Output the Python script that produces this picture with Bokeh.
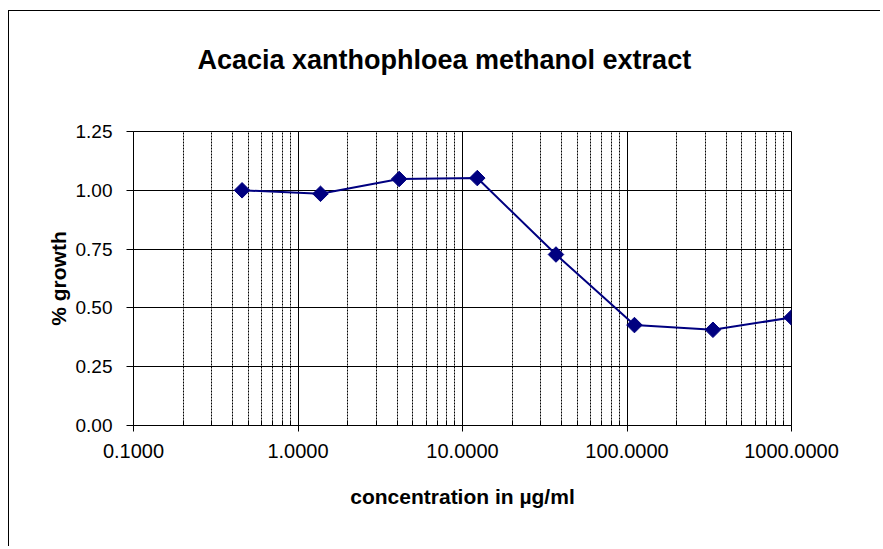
from bokeh.plotting import figure
from bokeh.models import Range1d, FixedTicker, PrintfTickFormatter, Title
from bokeh.embed import file_html
from bokeh.resources import INLINE

# Data
concentration = [0.457, 1.37, 4.12, 12.3, 37.0, 111.0, 333.0, 1000.0]
growth = [1.00, 0.985, 1.048, 1.052, 0.727, 0.427, 0.407, 0.459]

x_major_ticks = [0.1, 1, 10, 100, 1000]
x_minor_ticks = [m * d for d in [0.1, 1, 10, 100] for m in range(2, 10)]
y_ticks = [0.0, 0.25, 0.5, 0.75, 1.0, 1.25]

title_text = "Acacia xanthophloea methanol extract"
x_label = "concentration in µg/ml"
y_label = "% growth"

FONT = "Liberation Sans"
NAVY = "#000080"

p = figure(
    width=872, height=536,
    x_axis_type="log",
    x_range=Range1d(0.1, 1000), y_range=Range1d(0, 1.25),
    output_backend="svg", toolbar_location=None,
    min_border_left=124, min_border_right=90,
    min_border_top=120, min_border_bottom=122,
)
p.styles = {"margin-left": "8px", "margin-top": "10px",
            "border-left": "1px solid black", "border-top": "1px solid black"}
p.background_fill_color = "white"
p.border_fill_color = "white"
p.outline_line_color = "black"

# spacer between plot area and title (keeps the title high up)
p.add_layout(Title(text=" ", text_font_size="2px", standoff=48), "above")

# Title
p.title.text = title_text
p.title.text_font = FONT
p.title.text_font_size = "27px"
p.title.text_font_style = "bold"
p.title.text_color = "black"
p.title.align = "left"
p.title.offset = 64
p.title.standoff = 10

# X axis
xa = p.xaxis[0]
xa.ticker = FixedTicker(ticks=x_major_ticks, minor_ticks=x_minor_ticks)
xa.formatter = PrintfTickFormatter(format="%.4f")
xa.axis_label = x_label
xa.axis_label_text_font = FONT
xa.axis_label_text_font_size = "21px"
xa.axis_label_text_font_style = "bold"
xa.axis_label_text_color = "black"
xa.axis_label_standoff = 24
xa.major_label_text_font = FONT
xa.major_label_text_font_size = "20px"
xa.major_label_text_color = "black"
xa.major_label_standoff = 12
xa.axis_line_color = "black"
xa.major_tick_line_color = "black"
xa.minor_tick_line_color = "black"
xa.major_tick_in = 0
xa.major_tick_out = 6
xa.minor_tick_in = 5
xa.minor_tick_out = 0

# Y axis
ya = p.yaxis[0]
ya.ticker = FixedTicker(ticks=y_ticks)
ya.formatter = PrintfTickFormatter(format="%.2f")
ya.axis_label = y_label
ya.axis_label_text_font = FONT
ya.axis_label_text_font_size = "21px"
ya.axis_label_text_font_style = "bold"
ya.axis_label_text_color = "black"
ya.axis_label_standoff = 3
ya.major_label_text_font = FONT
ya.major_label_text_font_size = "19px"
ya.major_label_text_color = "black"
ya.major_label_standoff = 14
ya.axis_line_color = "black"
ya.major_tick_line_color = "black"
ya.minor_tick_line_color = None
ya.major_tick_in = 0
ya.major_tick_out = 7

# Grids
p.xgrid.grid_line_color = "black"
p.xgrid.grid_line_alpha = 1.0
p.xgrid.minor_grid_line_color = "black"
p.xgrid.minor_grid_line_dash = "2 1"
p.ygrid.grid_line_color = "black"
p.ygrid.grid_line_alpha = 1.0

# Series
p.line(concentration, growth, line_color=NAVY, line_width=2)
p.scatter(concentration, growth, marker="square", angle=0.785398, size=11,
          fill_color=NAVY, line_color=NAVY)

open("out.html", "w").write(file_html(p, INLINE))
